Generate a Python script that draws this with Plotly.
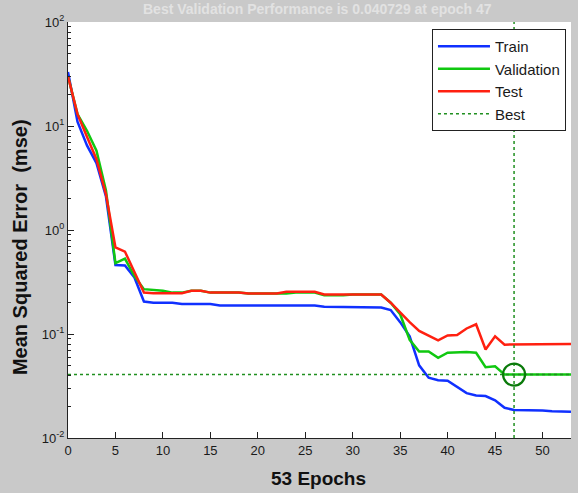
import plotly.graph_objects as go

epochs = list(range(0, 54))

train = [33, 11, 6.5, 4.4, 2.1, 0.46, 0.455, 0.35, 0.205, 0.2,
         0.2, 0.2, 0.194, 0.194, 0.194, 0.194, 0.188, 0.188, 0.188, 0.188,
         0.188, 0.188, 0.188, 0.188, 0.188, 0.188, 0.188, 0.183, 0.183, 0.183,
         0.183, 0.183, 0.183, 0.18, 0.17, 0.13, 0.095, 0.05, 0.038, 0.036,
         0.0355, 0.031, 0.027, 0.0256, 0.0253, 0.023, 0.0195, 0.0186, 0.0186, 0.0185,
         0.0184, 0.0181, 0.0179, 0.0179]

validation = [30, 13, 9, 5.8, 2.4, 0.48, 0.53, 0.36, 0.27, 0.265,
              0.26, 0.25, 0.25, 0.26, 0.26, 0.25, 0.25, 0.25, 0.25, 0.245,
              0.245, 0.245, 0.245, 0.245, 0.25, 0.25, 0.25, 0.236, 0.236, 0.236,
              0.24, 0.24, 0.24, 0.24, 0.2, 0.155, 0.088, 0.068, 0.068, 0.059,
              0.066, 0.067, 0.067, 0.066, 0.048, 0.049, 0.0407, 0.0407, 0.0407, 0.0407,
              0.0407, 0.0407, 0.0407, 0.0407]

test = [30, 13, 7.9, 4.8, 2.2, 0.68, 0.62, 0.40, 0.25, 0.247,
        0.247, 0.247, 0.247, 0.26, 0.26, 0.25, 0.25, 0.25, 0.25, 0.245,
        0.245, 0.245, 0.245, 0.255, 0.255, 0.255, 0.255, 0.24, 0.24, 0.24,
        0.24, 0.24, 0.24, 0.24, 0.2, 0.16, 0.13, 0.107, 0.097, 0.087,
        0.097, 0.098, 0.113, 0.124, 0.071, 0.095, 0.079, 0.079, 0.08, 0.08,
        0.08, 0.08, 0.08, 0.08]

best_epoch = 47
best_value = 0.0407

x_range = [0, 53]
y_range_exp = [-2, 2]
x_ticks = [0, 5, 10, 15, 20, 25, 30, 35, 40, 45, 50]
y_ticks = [0.01, 0.1, 1, 10, 100]
y_tick_labels = ["10<sup>-2</sup>", "10<sup>-1</sup>", "10<sup>0</sup>", "10<sup>1</sup>", "10<sup>2</sup>"]
y_minor = [m * 10 ** e for e in range(-2, 2) for m in range(2, 10)]

FONT = "Arial, Liberation Sans, sans-serif"
GREEN_BEST = "#1f8f1f"

fig = go.Figure()
fig.add_trace(go.Scatter(x=epochs, y=train, mode="lines", name="Train",
                         line=dict(color="#1030ff", width=2.5)))
fig.add_trace(go.Scatter(x=epochs, y=validation, mode="lines", name="Validation",
                         line=dict(color="#10c810", width=2.5)))
fig.add_trace(go.Scatter(x=epochs, y=test, mode="lines", name="Test",
                         line=dict(color="#ff2010", width=2.5)))
fig.add_trace(go.Scatter(x=[best_epoch, best_epoch], y=[10 ** y_range_exp[0], 10 ** y_range_exp[1]],
                         mode="lines", name="Best",
                         line=dict(color=GREEN_BEST, width=1.5, dash="3px,3px")))
fig.add_trace(go.Scatter(x=x_range, y=[best_value, best_value], mode="lines", showlegend=False,
                         line=dict(color=GREEN_BEST, width=1.5, dash="3px,3px")))
fig.add_trace(go.Scatter(x=[best_epoch], y=[best_value], mode="markers", showlegend=False,
                         marker=dict(symbol="circle-open", size=22, color="#0a7a0a",
                                     line=dict(width=2.2, color="#0a7a0a"))))

fig.update_layout(
    width=578, height=493, autosize=False,
    margin=dict(l=68, r=7, t=22, b=55),
    paper_bgcolor="#c9c9c9",
    plot_bgcolor="white",
    font=dict(family=FONT, size=13, color="#1a1a1a"),
    showlegend=True,
    legend=dict(x=0.990, y=0.983, xanchor="right", yanchor="top",
                bgcolor="white", bordercolor="#222", borderwidth=1,
                font=dict(family=FONT, size=15, color="#1a1a1a"),
                traceorder="normal", itemwidth=52),
    xaxis=dict(range=x_range, tickvals=x_ticks, ticks="inside", ticklen=6,
               tickcolor="#222", showline=True, linecolor="#222", linewidth=1,
               showgrid=False, zeroline=False, mirror=False,
               tickfont=dict(size=13)),
    yaxis=dict(type="log", range=y_range_exp, tickvals=y_ticks, ticktext=y_tick_labels,
               ticks="inside", ticklen=6, tickcolor="#222",
               showline=True, linecolor="#222", linewidth=1,
               showgrid=False, zeroline=False, mirror=False,
               tickfont=dict(size=13),
               minor=dict(tickvals=y_minor, ticks="inside", ticklen=3,
                          tickcolor="#222", showgrid=False)),
    annotations=[
        dict(text="<b>53 Epochs</b>", xref="paper", yref="paper", x=0.498, y=-0.098,
             xanchor="center", yanchor="middle", showarrow=False,
             font=dict(family=FONT, size=19, color="#111")),
        dict(text="<b>Mean Squared Error  (mse)</b>", xref="paper", yref="paper",
             x=-0.0954, y=0.459, xanchor="center", yanchor="middle", textangle=-90,
             showarrow=False, font=dict(family=FONT, size=20, color="#111")),
        dict(text="<b>Best Validation Performance is 0.040729 at epoch 47</b>",
             xref="paper", yref="paper", x=0.496, y=1.031, xanchor="center",
             yanchor="middle", showarrow=False,
             font=dict(family=FONT, size=14, color="#e2e2e2")),
    ],
)

fig.write_html("out.html")
